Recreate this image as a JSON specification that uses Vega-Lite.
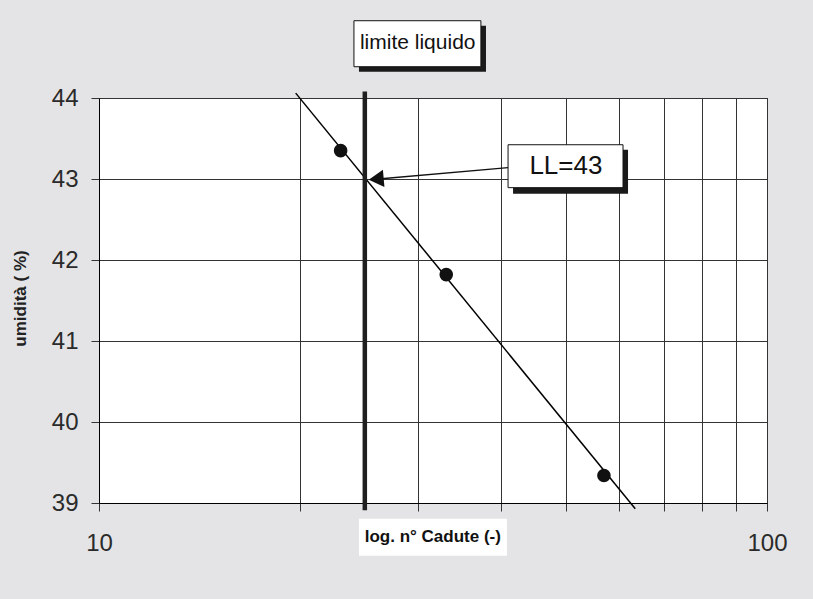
{
  "$schema": "https://vega.github.io/schema/vega-lite/v6.json",
  "width": 668,
  "height": 405,
  "autosize": {"type": "none"},
  "padding": {"left": 99, "top": 98, "right": 46, "bottom": 96},
  "background": "#e4e4e6",
  "config": {"view": {"fill": "white", "stroke": "black", "strokeWidth": 1}, "font": "Liberation Sans"},
  "datasets": {
    "fit": [{"n": 19.7, "w": 44.06}, {"n": 63.5, "w": 38.93}],
    "ll": [{"n": 25, "w": 44.08, "w2": 38.91}],
    "pts": [{"n": 23.0, "w": 43.35}, {"n": 33.1, "w": 41.82}, {"n": 57.0, "w": 39.34}],
    "arrow": [{"n": 40.96, "w": 43.14, "n2": 26.2, "w2": 43.0}],
    "head": [{"n": 26.0, "w": 43.0}],
    "shadows": [
      {"n": 24.5, "n2": 37.96, "w": 44.893, "w2": 44.325},
      {"n": 41.67, "n2": 61.94, "w": 43.362, "w2": 42.819}
    ],
    "boxes": [
      {"n": 24.08, "n2": 37.3, "w": 44.954, "w2": 44.386},
      {"n": 40.96, "n2": 60.88, "w": 43.423, "w2": 42.893}
    ],
    "titlebg": [{"n": 24.5, "n2": 40.8, "w": 38.806, "w2": 38.35}],
    "t1": [{"n": 30.0, "w": 44.68, "label": "limite liquido"}],
    "t2": [{"n": 50.0, "w": 43.158, "label": "LL=43"}],
    "t3": [{"n": 31.6, "w": 38.578, "label": "log. n° Cadute (-)"}]
  },
  "layer": [
    {
      "data": {"name": "fit"},
      "mark": {"type": "line", "color": "black", "strokeWidth": 1.5, "clip": false},
      "encoding": {
        "x": {
          "field": "n", "type": "quantitative",
          "scale": {"type": "log", "domain": [10, 100], "nice": false},
          "axis": {
            "values": [10, 20, 30, 40, 50, 60, 70, 80, 90, 100],
            "labelExpr": "datum.value == 10 || datum.value == 100 ? datum.label : ''",
            "title": null,
            "grid": true, "gridColor": "#333333", "gridWidth": 1, "gridOpacity": 1,
            "tickSize": 8, "tickColor": "#333333",
            "domainColor": "black",
            "labelFont": "Liberation Sans",
            "labelFontSize": 24, "labelColor": "#2a2a2a",
            "labelBaseline": "middle", "labelPadding": 32,
            "labelFlush": false, "labelOverlap": false
          }
        },
        "y": {
          "field": "w", "type": "quantitative",
          "scale": {"domain": [39, 44], "nice": false, "zero": false},
          "axis": {
            "values": [39, 40, 41, 42, 43, 44],
            "format": "d",
            "title": "umidità ( %)",
            "titleFont": "Liberation Sans",
            "titleFontSize": 17, "titleFontWeight": "bold", "titleColor": "#222222",
            "titleX": -79, "titleY": 200, "titleAlign": "center", "titleBaseline": "middle",
            "grid": true, "gridColor": "#333333", "gridWidth": 1, "gridOpacity": 1,
            "tickSize": 8, "tickColor": "#333333",
            "domainColor": "black",
            "labelFont": "Liberation Sans",
            "labelFontSize": 24, "labelColor": "#2a2a2a",
            "labelPadding": 13, "labelFlush": false, "labelOverlap": false
          }
        }
      }
    },
    {
      "data": {"name": "ll"},
      "mark": {"type": "rule", "color": "#1f1f1f", "strokeWidth": 4.5, "clip": false},
      "encoding": {
        "x": {"field": "n", "type": "quantitative"},
        "y": {"field": "w", "type": "quantitative"},
        "y2": {"field": "w2"}
      }
    },
    {
      "data": {"name": "pts"},
      "mark": {"type": "point", "shape": "circle", "filled": true, "size": 185, "color": "#111111", "opacity": 1},
      "encoding": {
        "x": {"field": "n", "type": "quantitative"},
        "y": {"field": "w", "type": "quantitative"}
      }
    },
    {
      "data": {"name": "arrow"},
      "mark": {"type": "rule", "color": "#111111", "strokeWidth": 1.3},
      "encoding": {
        "x": {"field": "n", "type": "quantitative"},
        "y": {"field": "w", "type": "quantitative"},
        "x2": {"field": "n2"},
        "y2": {"field": "w2"}
      }
    },
    {
      "data": {"name": "head"},
      "mark": {"type": "point", "shape": "triangle-left", "filled": true, "size": 300, "angle": -5, "color": "#111111", "opacity": 1},
      "encoding": {
        "x": {"field": "n", "type": "quantitative"},
        "y": {"field": "w", "type": "quantitative"}
      }
    },
    {
      "data": {"name": "shadows"},
      "mark": {"type": "rect", "color": "#1a1a1a", "clip": false},
      "encoding": {
        "x": {"field": "n", "type": "quantitative"},
        "x2": {"field": "n2"},
        "y": {"field": "w", "type": "quantitative"},
        "y2": {"field": "w2"}
      }
    },
    {
      "data": {"name": "boxes"},
      "mark": {"type": "rect", "fill": "white", "stroke": "#111111", "strokeWidth": 1, "clip": false},
      "encoding": {
        "x": {"field": "n", "type": "quantitative"},
        "x2": {"field": "n2"},
        "y": {"field": "w", "type": "quantitative"},
        "y2": {"field": "w2"}
      }
    },
    {
      "data": {"name": "titlebg"},
      "mark": {"type": "rect", "fill": "white", "clip": false},
      "encoding": {
        "x": {"field": "n", "type": "quantitative"},
        "x2": {"field": "n2"},
        "y": {"field": "w", "type": "quantitative"},
        "y2": {"field": "w2"}
      }
    },
    {
      "data": {"name": "t1"},
      "mark": {"type": "text", "font": "Liberation Sans", "fontSize": 21, "color": "#111111", "align": "center", "baseline": "middle", "clip": false},
      "encoding": {
        "x": {"field": "n", "type": "quantitative"},
        "y": {"field": "w", "type": "quantitative"},
        "text": {"field": "label"}
      }
    },
    {
      "data": {"name": "t2"},
      "mark": {"type": "text", "font": "Liberation Sans", "fontSize": 26, "color": "#111111", "align": "center", "baseline": "middle", "clip": false},
      "encoding": {
        "x": {"field": "n", "type": "quantitative"},
        "y": {"field": "w", "type": "quantitative"},
        "text": {"field": "label"}
      }
    },
    {
      "data": {"name": "t3"},
      "mark": {"type": "text", "font": "Liberation Sans", "fontSize": 17, "fontWeight": "bold", "color": "#111111", "align": "center", "baseline": "middle", "clip": false},
      "encoding": {
        "x": {"field": "n", "type": "quantitative"},
        "y": {"field": "w", "type": "quantitative"},
        "text": {"field": "label"}
      }
    }
  ]
}
